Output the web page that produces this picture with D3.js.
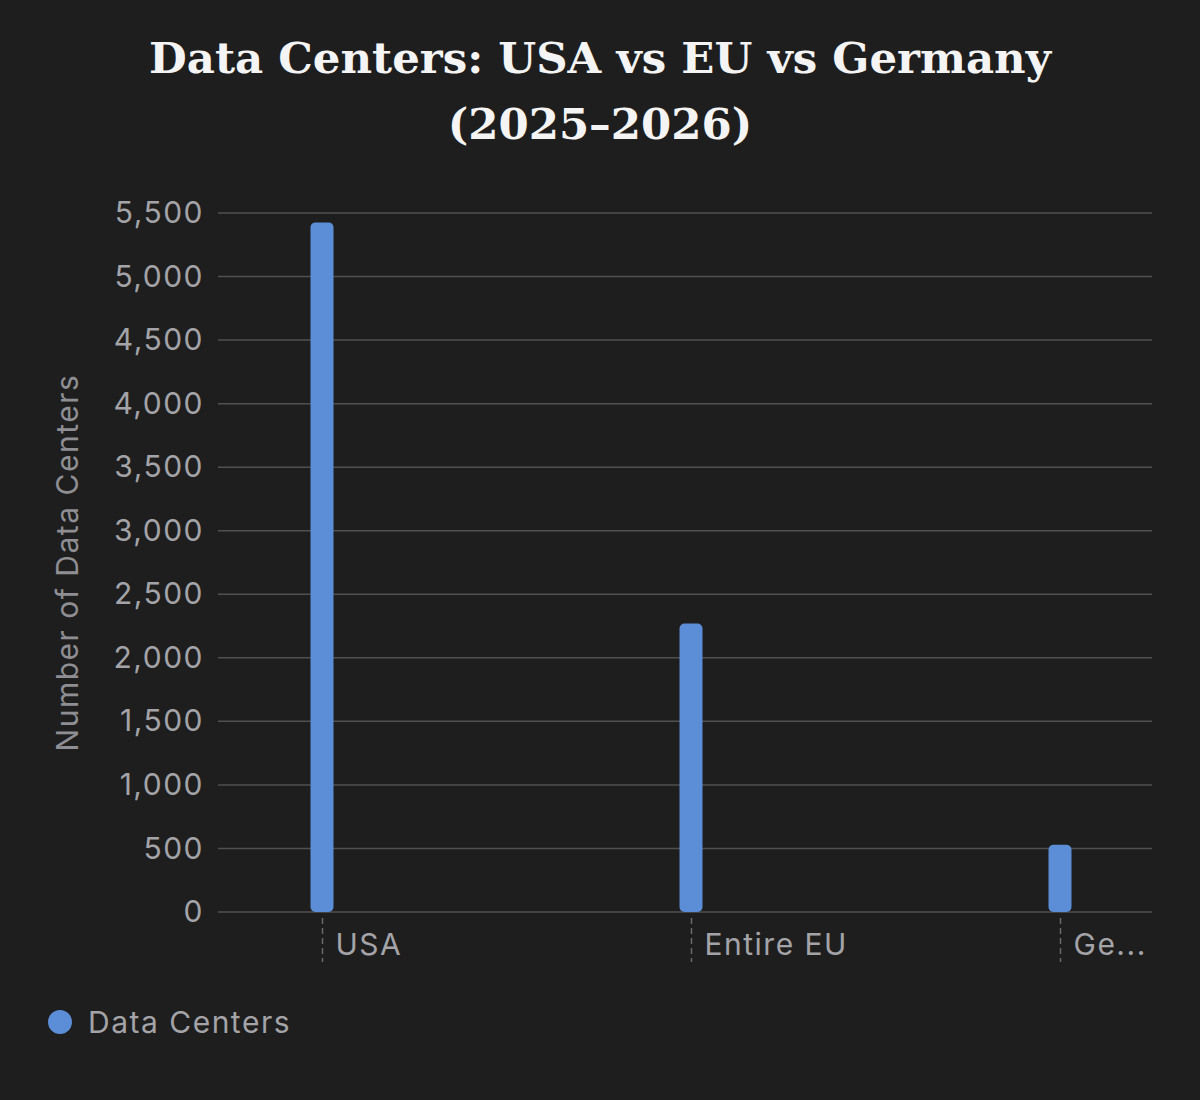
<!DOCTYPE html>
<html>
<head>
<meta charset="utf-8">
<script src="https://cdn.jsdelivr.net/npm/d3@7"></script>
<style>
  body { margin: 0; background: #1e1e1e; }
  #chart { width: 1200px; height: 1100px; }
</style>
</head>
<body>
<div id="chart"></div>
<script>
var categories = ['USA', 'Entire EU', 'Germany']
var shortLabels = ['USA', 'Entire EU', 'Ge...']
var values = [5426, 2270, 529]
var yTicks = [0, 500, 1000, 1500, 2000, 2500, 3000, 3500, 4000, 4500, 5000, 5500]
var seriesName = 'Data Centers'

var width = 1200
var height = 1100
var margin = {top: 213, right: 48, bottom: 188, left: 218}
var innerW = width - margin.left - margin.right
var innerH = height - margin.top - margin.bottom

var barColor = '#5b8ed7'
var labelColor = '#a3a3a8'
var sansFont = 'Inter, "Noto Sans", "Liberation Sans", sans-serif'
var labelSize = 30
var labelSpacing = 1.5

var svg = d3.select('#chart')
  .append('svg')
  .attr('width', width)
  .attr('height', height)

svg.append('rect')
  .attr('width', width)
  .attr('height', height)
  .attr('fill', '#1e1e1e')

// title, two lines, serif bold
var titleLines = ['Data Centers: USA vs EU vs Germany', '(2025\u20132026)']
var title = svg.append('text')
  .attr('text-anchor', 'middle')
  .attr('fill', '#f4f4f4')
  .attr('font-family', '"DejaVu Serif", "Liberation Serif", serif')
  .attr('font-weight', 'bold')
  .attr('font-size', 50)
title.selectAll('tspan')
  .data(titleLines)
  .enter().append('tspan')
  .attr('x', width / 2)
  .attr('y', function(d, i) { return 73 + i * 66 })
  .text(function(d) { return d })
// fit the first line to the width seen in the picture
var firstLen = title.select('tspan').node().getComputedTextLength()
title.attr('font-size', 50 * 902 / firstLen)

var g = svg.append('g')
  .attr('transform', 'translate(' + margin.left + ',' + margin.top + ')')

var y = d3.scaleLinear()
  .domain([0, 5500])
  .range([innerH, 0])

var x = d3.scalePoint()
  .domain(categories)
  .range([104, 842])

// grid lines
g.selectAll('.grid')
  .data(yTicks)
  .enter().append('line')
  .attr('class', 'grid')
  .attr('x1', 0)
  .attr('x2', innerW)
  .attr('y1', function(d) { return y(d) })
  .attr('y2', function(d) { return y(d) })
  .attr('stroke', '#505050')
  .attr('stroke-width', 1.5)

// y axis labels
var yAxis = g.append('g')
  .call(d3.axisLeft(y).tickValues(yTicks).tickFormat(d3.format(',')).tickSize(0).tickPadding(14))
yAxis.select('.domain').remove()
yAxis.selectAll('text')
  .attr('fill', labelColor)
  .attr('font-family', sansFont)
  .attr('font-size', labelSize)
  .attr('letter-spacing', labelSpacing)

// y axis title
svg.append('text')
  .attr('transform', 'translate(78,' + (margin.top + innerH / 2) + ') rotate(-90)')
  .attr('text-anchor', 'middle')
  .attr('fill', '#8e8e93')
  .attr('font-family', sansFont)
  .attr('font-size', labelSize)
  .attr('letter-spacing', labelSpacing)
  .text('Number of Data Centers')

// x axis: dashed ticks with labels to the right
var xAxis = g.append('g')
  .attr('transform', 'translate(0,' + innerH + ')')
  .call(d3.axisBottom(x).tickSize(0).tickFormat(function(d, i) { return shortLabels[i] }))
xAxis.select('.domain').remove()
xAxis.selectAll('.tick line')
  .attr('y1', 6)
  .attr('y2', 50)
  .attr('stroke', '#6a6a6a')
  .attr('stroke-width', 1.5)
  .attr('stroke-dasharray', '6,4')
xAxis.selectAll('.tick text')
  .attr('text-anchor', 'start')
  .attr('x', 13)
  .attr('y', 0)
  .attr('dy', 43)
  .attr('fill', labelColor)
  .attr('font-family', sansFont)
  .attr('font-size', labelSize)
  .attr('letter-spacing', labelSpacing)

// bars
var barW = 23
g.selectAll('.bar')
  .data(values)
  .enter().append('rect')
  .attr('class', 'bar')
  .attr('x', function(d, i) { return x(categories[i]) - barW / 2 })
  .attr('y', function(d) { return y(d) })
  .attr('width', barW)
  .attr('height', function(d) { return innerH - y(d) })
  .attr('rx', 5)
  .attr('ry', 5)
  .attr('fill', barColor)

// legend
var legend = svg.append('g')
  .attr('transform', 'translate(60,1022)')
legend.append('circle')
  .attr('r', 12)
  .attr('fill', barColor)
legend.append('text')
  .attr('x', 28)
  .attr('y', 11)
  .attr('fill', labelColor)
  .attr('font-family', sansFont)
  .attr('font-size', labelSize)
  .attr('letter-spacing', labelSpacing)
  .text(seriesName)
</script>
</body>
</html>
